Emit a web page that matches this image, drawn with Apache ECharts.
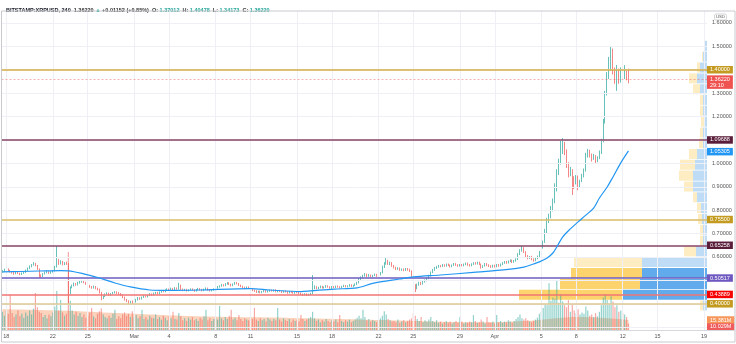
<!DOCTYPE html>
<html><head><meta charset="utf-8">
<script src="https://cdn.jsdelivr.net/npm/echarts@6/dist/echarts.min.js"></script>
<style>html,body{margin:0;padding:0;background:#fff}#c{width:736px;height:344px}</style>
</head><body><div id="c"></div>
<script>
// ---- data: 4h candles, prices in thousandths of a USD ----
const opens = [
536,540,545,548,542,537,532,528,534,530, 526,531,535,542,551,560,566,572,563,548,
522,516,528,533,537,531,536,540,558,585, 572,580,568,574,570,445,470,478,486,481,
490,494,497,492,485,478,472,468,474,466, 462,448,425,432,441,445,438,443,447,450,
446,442,437,428,418,412,405,410,402,408, 418,425,421,428,433,430,436,441,438,444,
447,443,450,455,452,458,462,459,465,461, 467,463,478,462,458,461,456,460,463,459,
455,460,464,461,457,462,466,460,456,459, 463,467,472,476,481,478,485,489,483,478,
484,490,486,479,474,470,466,471,467,462, 458,455,450,453,448,452,456,451,454,458,
455,459,452,456,453,450,454,451,447,452, 449,446,450,448,445,441,438,442,437,440,
444,468,472,466,470,474,468,471,476,472, 468,473,470,475,472,469,474,477,473,476,
480,475,478,483,490,505,512,520,526,518, 522,516,521,525,519,524,532,558,572,584,
570,575,562,555,548,552,545,548,543,550, 546,540,520,478,470,482,490,485,495,500,
508,520,534,545,553,558,562,560,566,562, 568,564,559,565,570,566,562,567,563,568,
572,566,563,569,574,571,576,568,556,562, 570,565,561,557,563,559,566,562,568,574,
579,575,581,585,578,583,590,612,628,638, 621,603,596,600,590,586,594,603,622,640,
665,712,752,772,805,838,890,962,1005,1060, 1083,1045,995,952,968,935,918,942,905,925,
948,972,1035,1052,1038,1022,1030,1012,1025,1048, 1098,1180,1300,1375,1405,1440,1395,1370,1395,1360,
1392,1375,1385,1370.12];
const closes = [
540,545,548,542,537,532,528,534,530,526, 531,535,542,551,560,566,572,563,548,522,
516,528,533,537,531,536,540,558,585,572, 580,568,574,570,445,470,478,486,481,490,
494,497,492,485,478,472,468,474,466,462, 448,425,432,441,445,438,443,447,450,446,
442,437,428,418,412,405,410,402,408,418, 425,421,428,433,430,436,441,438,444,447,
443,450,455,452,458,462,459,465,461,467, 463,478,462,458,461,456,460,463,459,455,
460,464,461,457,462,466,460,456,459,463, 467,472,476,481,478,485,489,483,478,484,
490,486,479,474,470,466,471,467,462,458, 455,450,453,448,452,456,451,454,458,455,
459,452,456,453,450,454,451,447,452,449, 446,450,448,445,441,438,442,437,440,444,
468,472,466,470,474,468,471,476,472,468, 473,470,475,472,469,474,477,473,476,480,
475,478,483,490,505,512,520,526,518,522, 516,521,525,519,524,532,558,572,584,570,
575,562,555,548,552,545,548,543,550,546, 540,520,478,470,482,490,485,495,500,508,
520,534,545,553,558,562,560,566,562,568, 564,559,565,570,566,562,567,563,568,572,
566,563,569,574,571,576,568,556,562,570, 565,561,557,563,559,566,562,568,574,579,
575,581,585,578,583,590,612,628,638,621, 603,596,600,590,586,594,603,622,640,665,
712,752,772,805,838,890,962,1005,1060,1083, 1045,995,952,968,935,918,942,905,925,948,
972,1035,1052,1038,1022,1030,1012,1025,1048,1098, 1180,1300,1375,1405,1440,1395,1370,1395,1360,1392,
1375,1385,1370.12,1362.2];
const highs = [
544,550,553,551,545,540,536,538,537,533, 534,539,546,555,564,570,578,575,566,551,
526,531,537,541,539,539,544,562,647,592, 586,583,578,580,574,474,482,491,489,494,
498,502,500,494,488,481,476,478,476,469, 465,451,435,444,449,448,446,451,454,453,
450,446,440,431,421,415,413,414,411,421, 429,428,431,437,436,439,445,444,448,451,
451,453,459,458,461,466,465,469,468,471, 470,490,482,465,464,464,462,466,466,462,
463,468,467,464,465,470,469,463,462,466, 470,476,479,485,484,488,493,492,486,487,
494,493,489,482,477,473,474,474,470,465, 461,458,456,456,455,459,459,457,461,461,
462,462,459,459,456,457,457,454,455,455, 452,453,453,451,448,444,445,445,443,447,
523,479,475,473,478,477,474,480,479,475, 476,476,478,478,475,477,481,480,479,484,
483,481,487,494,510,517,524,531,529,527, 525,524,529,528,527,536,563,578,595,588,
580,578,566,558,556,555,551,551,553,553, 550,543,523,484,486,494,494,499,504,512,
524,538,549,557,562,566,566,570,569,572, 572,568,568,574,574,569,570,570,572,576,
576,570,573,578,578,580,580,572,565,574, 574,569,565,567,567,570,570,572,578,583,
583,585,590,589,587,594,616,633,647,642, 625,608,604,605,594,597,606,626,645,670,
720,767,785,818,850,915,975,1020,1096,1108, 1092,1060,1005,985,975,945,950,948,930,955,
978,1045,1062,1058,1042,1040,1035,1030,1055,1105, 1190,1310,1390,1455,1497,1490,1410,1420,1405,1410,
1415,1420,1395,1404.78];
const lows = [
532,537,542,539,534,529,524,526,527,522, 523,528,532,539,548,556,563,560,545,512,
511,514,525,530,528,528,533,538,555,566, 568,564,565,566,400,440,466,474,477,478,
486,490,488,481,474,468,464,465,462,457, 444,415,420,429,437,434,434,440,444,442,
438,433,424,414,407,400,401,395,399,405, 414,417,418,425,427,427,433,434,435,441,
440,440,447,449,449,455,455,456,458,458, 460,460,459,454,455,452,453,457,456,451,
452,457,457,453,454,459,456,452,453,456, 460,464,469,473,474,475,482,480,474,475,
481,483,476,471,466,462,463,464,459,454, 451,446,447,445,445,449,448,448,451,452,
452,449,449,450,446,447,448,443,444,446, 443,443,445,441,437,434,435,433,434,437,
441,462,462,463,466,465,465,468,469,464, 464,467,467,469,465,466,471,470,470,473,
472,472,476,480,487,501,508,516,514,515, 512,513,518,515,516,521,530,553,567,566,
565,558,551,544,545,541,541,539,540,542, 536,515,468,450,462,477,480,482,491,496,
505,517,531,541,549,554,556,557,558,559, 561,555,556,562,562,558,559,560,560,565,
562,559,560,566,567,568,565,550,553,559, 561,557,553,554,555,556,558,559,565,571,
571,572,578,574,575,580,587,608,623,617, 599,590,592,586,580,582,590,600,618,636,
660,700,745,765,795,830,880,950,995,1040, 1035,980,940,945,865,890,910,885,898,920,
940,965,1025,1025,1008,1015,1000,1005,1018,1040, 1090,1170,1290,1360,1395,1380,1340,1310,1340,1345,
1345,1360,1355,1341.73];
// volume per candle, millions of XRP
const volumes = [
28,22,30,25,54,26,20,24,30,21, 25,19,27,22,30,24,33,57,35,28,
26,20,23,18,24,21,27,36,60,30, 46,27,22,25,120,45,30,24,28,22,
26,20,24,19,22,27,34,21,18,25, 29,33,24,20,18,22,19,25,31,17,
21,18,24,27,22,25,20,29,19,23, 18,21,31,17,20,16,22,19,18,24,
17,20,16,22,19,15,21,18,28,17, 16,26,21,15,18,14,19,16,20,15,
17,14,19,16,21,31,15,18,14,17, 19,16,37,18,15,20,17,22,31,16,
19,15,23,17,14,18,16,15,20,17, 34,16,14,18,15,17,13,19,16,14,
17,15,34,16,13,18,15,14,17,12, 16,14,15,13,23,17,14,16,18,20,
28,18,14,16,12,15,13,17,14,12, 15,13,16,12,23,14,12,15,13,16,
12,14,16,19,22,18,31,20,15,17, 13,15,14,12,16,18,22,29,24,17,
15,13,14,12,16,11,13,15,12,14, 16,18,26,22,17,14,20,12,15,13,
16,20,14,12,15,11,13,10,12,14, 11,13,10,12,14,11,20,13,10,12,
11,13,12,23,14,11,12,16,13,10, 20,12,11,13,10,23,12,14,11,13,
12,15,13,11,14,17,20,24,18,16, 18,15,13,12,14,16,19,25,28,34,
40,38,72,45,50,48,77,42,55,44, 38,35,46,28,40,30,26,32,24,27,
25,36,30,22,24,20,26,21,28,38, 50,55,46,40,52,44,35,38,28,30,
26,24,20,10.029];
const startTime = Date.UTC(2021, 1, 17, 16);   // first 4h candle
const slotCount = 364;                          // candles + empty future slots
const tickDates = ['2021-02-18','2021-02-22','2021-02-25','2021-03-01','2021-03-04','2021-03-08','2021-03-11','2021-03-15','2021-03-18','2021-03-22','2021-03-25','2021-03-29','2021-04-01','2021-04-05','2021-04-08','2021-04-12','2021-04-15','2021-04-19'];
const tickLabels = ['18','22','25','Mar','4','8','11','15','18','22','25','29','Apr','5','8','12','15','19'];
const priceTicks = [0.6,0.7,0.8,0.9,1.0,1.2,1.3,1.5,1.6];
const gridPrices = [0.3,0.4,0.5,0.6,0.7,0.8,0.9,1.0,1.1,1.2,1.3,1.4,1.5,1.6];
// moving average (blue): [candle index, price]
const maIdx = [0,9,19,30,34,41,50,58,66,76,85,102,128,138,154,159,171,183,191,205,212,226,243,261,269,274,277,281,284,286,289,293,297,301,305,308,312,315,319,323];
const maVal = [0.536,0.538,0.540,0.542,0.541,0.530,0.510,0.489,0.472,0.459,0.457,0.459,0.465,0.459,0.452,0.455,0.463,0.468,0.487,0.506,0.515,0.523,0.534,0.547,0.557,0.570,0.579,0.596,0.617,0.643,0.685,0.720,0.750,0.779,0.809,0.852,0.899,0.942,1.002,1.05305];
// volume moving average (peach area): [candle index, millions]
const vmaIdx = [0,30,60,100,150,200,245,270,298,323];
const vmaVal = [32,30,26,21,18.5,15,12,14,20,15.381];
// visible-range volume profile rows
const profLow  = [0.370,0.416,0.462,0.508,0.555,0.601,0.647,0.693,0.739,0.786,0.832,0.878,0.924,0.971,1.017,1.063,1.109,1.155,1.202,1.248,1.294,1.340,1.386,1.433,1.479];
const profHigh = [0.416,0.462,0.508,0.555,0.601,0.647,0.693,0.739,0.786,0.832,0.878,0.924,0.971,1.017,1.063,1.109,1.155,1.202,1.248,1.294,1.340,1.386,1.433,1.479,1.525];
const profDown = [30,1030,800,710,680,120,30,30,40,40,40,90,140,150,80,40,30,30,30,30,70,80,30,10,0];
const profUp   = [40,850,670,650,650,110,40,40,50,60,100,140,140,120,100,40,40,30,40,40,70,100,70,40,30];
const valueAreaRows = [1,2,3];
// horizontal levels
const levelVals = [1.40000,1.09688,0.75500,0.65258,0.50517,0.43889,0.40000];
const lastPrice = 1.36220, lastCountdown = '29:10';
const maLast = 1.05305;
const volMaLast = 15.381, volLast = 10.029;

// ---- styles ----
const levelLine = ['#d4ad45','#874466','#d9bd6a','#874466','#6e5cc0','#f27474','#dcc893'];
const levelBg   = ['#c49b21','#5a1e3a','#c49b21','#5a1e3a','#6f58c0','#f70000','#c49b21'];
const FS = 5.5, FONT = 'Liberation Sans, Arial, sans-serif';
const UP = '#26a69a', DOWN = '#ef5350';
const HIDDEN = { color: 'rgba(0,0,0,0)', width: 0 };

const categories = [];
for (let k = 0; k < slotCount; k++) categories.push(new Date(startTime + k * 4 * 3600e3).toISOString());
const tickSlot = new Map();
tickDates.forEach((d, j) => tickSlot.set(Math.round((Date.parse(d + 'T00:00:00Z') - startTime) / (4 * 3600e3)), tickLabels[j]));

const candleData = closes.map((c, i) => [opens[i] / 1000, c / 1000, lows[i] / 1000, highs[i] / 1000]);
const volData = volumes.map((v, i) => ({ value: v, itemStyle: { color: closes[i] >= opens[i] ? 'rgba(38,166,154,0.5)' : 'rgba(239,83,80,0.5)' } }));
const profData = profLow.map((lo, r) => [lo, profHigh[r], profDown[r], profUp[r], valueAreaRows.includes(r) ? 1 : 0]);

function lbl(text, bg, extra) {
  return Object.assign({ show: true, position: 'end', distance: 0, formatter: text, color: '#fff', backgroundColor: bg,
    padding: [1, 3, 0.5, 3], fontSize: FS, fontFamily: FONT, lineHeight: 6 }, extra || {});
}

const levelMarks = levelVals.map((v, j) => ({ yAxis: v, lineStyle: { color: levelLine[j], width: 1.6, type: 'solid' }, label: lbl(v.toFixed(5), levelBg[j]) }));
levelMarks.push({ yAxis: lastPrice, lineStyle: { color: 'rgba(239,83,80,0.45)', width: 1, type: [2, 2] }, label: lbl(lastPrice.toFixed(5) + '\n' + lastCountdown, '#ef5350', { offset: [0, 3] }) });
levelMarks.push({ yAxis: maLast, lineStyle: HIDDEN, label: lbl(maLast.toFixed(5), '#2196f3') });

const chart = echarts.init(document.getElementById('c'), null, { renderer: 'canvas' });
chart.setOption({
  animation: false,
  backgroundColor: '#fff',
  title: {
    left: 1, top: 2.2,
    text: '{n|BITSTAMP:XRPUSD, 240}  {d|1.36220} {u|▲} {d|+0.01152 (+0.85%)}  {d|O:} {u|1.37012}  {d|H:} {u|1.40478}  {d|L:} {u|1.34173}  {d|C:} {u|1.36220}',
    textStyle: { fontSize: FS, fontFamily: FONT, rich: {
      n: { fontSize: FS, fontFamily: FONT, color: '#131722', fontWeight: 'bold' },
      d: { fontSize: FS, fontFamily: FONT, color: '#333' },
      u: { fontSize: FS, fontFamily: FONT, color: UP } } }
  },
  grid: { left: 1.5, right: 29, top: 11, bottom: 14, containLabel: false },
  xAxis: [
    { type: 'category', data: categories, boundaryGap: true,
      axisLine: { show: false }, axisTick: { show: false }, splitLine: { show: false },
      axisLabel: { show: true, interval: (i) => tickSlot.has(i), formatter: (v, i) => tickSlot.get(i) || '',
        fontSize: FS, fontFamily: FONT, color: '#555', margin: 3, hideOverlap: false } },
    { type: 'value', min: -0.5, max: slotCount - 0.5, show: false },
    { type: 'value', min: 0, max: 7055, inverse: true, show: false }
  ],
  yAxis: [
    { type: 'value', position: 'right', min: 0.288, max: 1.651, scale: true,
      axisLine: { show: false }, axisTick: { show: false }, splitLine: { show: false },
      axisLabel: { show: true, customValues: priceTicks, formatter: (v) => v.toFixed(5), fontSize: FS, fontFamily: FONT, color: '#555', margin: 5 } },
    { type: 'value', min: 0, max: 491, show: false }
  ],
  series: [
    { type: 'line', xAxisIndex: 1, yAxisIndex: 0, data: [[0, null]], symbol: 'none', silent: true, z: 0,
      markLine: { silent: true, symbol: 'none', animation: false, label: { show: false },
        lineStyle: { color: '#eef0f5', width: 1, type: 'solid' },
        data: gridPrices.map(p => ({ yAxis: p })).concat([...tickSlot.keys()].map(k => ({ xAxis: k }))) } },
    { type: 'custom', xAxisIndex: 2, yAxisIndex: 0, data: profData, z: 1, silent: true,
      encode: { x: [2, 3], y: [0, 1] },
      renderItem: (params, api) => {
        const lo = api.value(0), hi = api.value(1), dn = api.value(2), up = api.value(3), va = api.value(4);
        const top = api.coord([0, hi]), bot = api.coord([0, lo]);
        const xR = top[0], xU = api.coord([up, hi])[0], xD = api.coord([up + dn, hi])[0];
        const y = top[1] + 0.4, h = bot[1] - top[1] - 0.8;
        return { type: 'group', children: [
          { type: 'rect', shape: { x: xD, y, width: xU - xD, height: h }, style: { fill: va ? '#fcd36c' : '#feecc2' } },
          { type: 'rect', shape: { x: xU, y, width: xR - xU, height: h }, style: { fill: va ? '#61abec' : '#bfdcf7' } }
        ] };
      } },
    { type: 'line', xAxisIndex: 1, yAxisIndex: 1, data: vmaIdx.map((k, j) => [k, vmaVal[j]]), smooth: 0.4, symbol: 'none',
      lineStyle: { width: 0 }, areaStyle: { color: '#fbd3bc', opacity: 1 }, z: 2, silent: true,
      markLine: { silent: true, symbol: 'none', animation: false,
        data: [ { yAxis: volMaLast, lineStyle: HIDDEN, label: lbl(volMaLast.toFixed(3) + 'M', '#f7965a') } ] } },
    { type: 'bar', xAxisIndex: 0, yAxisIndex: 1, data: volData, barWidth: 1.2, z: 3, silent: true,
      markLine: { silent: true, symbol: 'none', animation: false,
        data: [ { yAxis: volLast, lineStyle: HIDDEN, label: lbl(volLast.toFixed(3) + 'M', '#ef5b5b', { offset: [0, 3.5] }) } ] } },
    { type: 'candlestick', xAxisIndex: 0, yAxisIndex: 0, data: candleData, barWidth: 0.8, z: 4, silent: true,
      itemStyle: { color: UP, color0: DOWN, borderColor: UP, borderColor0: DOWN, borderWidth: 0.7 } },
    { type: 'line', xAxisIndex: 1, yAxisIndex: 0, data: maIdx.map((k, j) => [k, maVal[j]]), smooth: 0.3, symbol: 'none',
      lineStyle: { color: '#2196f3', width: 1.2 }, z: 5, silent: true,
      markLine: { silent: true, symbol: 'none', animation: false, data: levelMarks } }
  ],
  graphic: [
    { type: 'rect', shape: { x: 1.5, y: 11, width: 733.5, height: 331 }, style: { fill: 'none', stroke: '#c8cacf', lineWidth: 1 }, silent: true, z: 100 },
    { type: 'line', shape: { x1: 1.5, y1: 330.5, x2: 735, y2: 330.5 }, style: { stroke: '#d6d8dd', lineWidth: 1 }, silent: true, z: 100 },
    { type: 'rect', shape: { x: 714.5, y: 14, width: 12, height: 6, r: 1.5 }, style: { fill: '#fff', stroke: '#b8bbc2', lineWidth: 0.6 }, z: 100 },
    { type: 'text', x: 720.5, y: 17.2, style: { text: 'USD', fontSize: 4.3, fontFamily: FONT, fill: '#555', align: 'center', verticalAlign: 'middle' }, z: 101 }
  ]
});
</script></body></html>
